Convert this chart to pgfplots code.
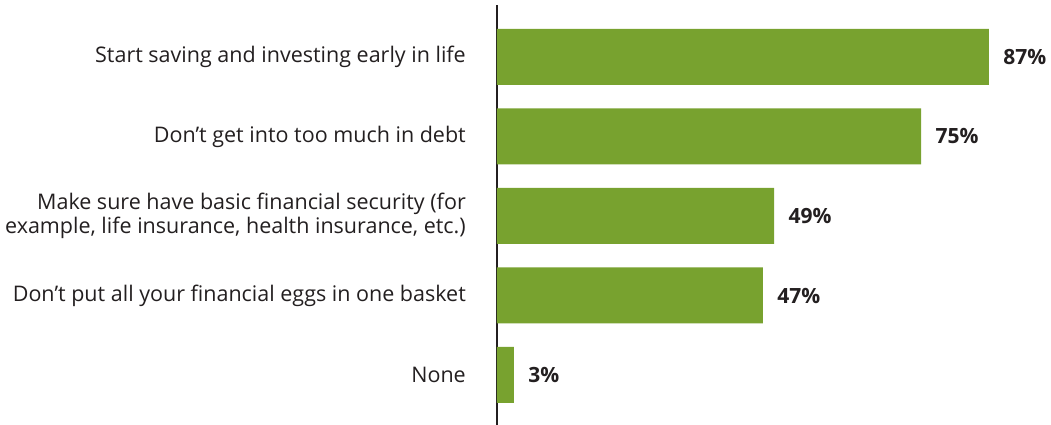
\documentclass[border=0pt]{standalone}
\usepackage{pgfplots}
\pgfplotsset{compat=1.18}
\usepackage{fontspec}
\setmainfont{Open Sans}
\definecolor{bargreen}{HTML}{78A22F}
\definecolor{txt}{HTML}{231F20}
\begin{document}
\begin{tikzpicture}
\begin{axis}[
  name=ax,
  scale only axis,
  width=554pt, height=420pt,
  xbar, bar width=56pt,
  xmin=0, xmax=97.97,
  ymin=-0.654, ymax=4.629,
  y dir=reverse,
  hide x axis,
  axis y line*=left,
  y axis line style={line width=2.4pt, color=txt, -},
  ytick={0,1,2,3,4},
  yticklabels={Start saving and investing early in life,
    Don’t get into too much in debt,
    {Make sure have basic financial security (for\\example, life insurance, health insurance, etc.)},
    Don’t put all your financial eggs in one basket,
    None},
  major tick length=0pt,
  yticklabel style={align=right, font=\fontsize{21.5}{24.5}\selectfont, text=txt, inner sep=0pt, xshift=-31pt},
  /pgf/number format/assume math mode=true,
  nodes near coords={\pgfmathprintnumber{\pgfplotspointmeta}\%},
  nodes near coords style={font=\fontsize{21}{24}\selectfont\bfseries, text=txt, anchor=west, xshift=11pt},
  point meta=x,
]
\addplot[fill=bargreen, draw=none] coordinates {(87,0) (75,1) (49,2) (47,3) (3,4)};
\end{axis}
\pgfresetboundingbox
\path ([xshift=-497pt,yshift=-0pt]ax.south west) rectangle ([yshift=5pt]ax.north east);
\end{tikzpicture}
\end{document}
